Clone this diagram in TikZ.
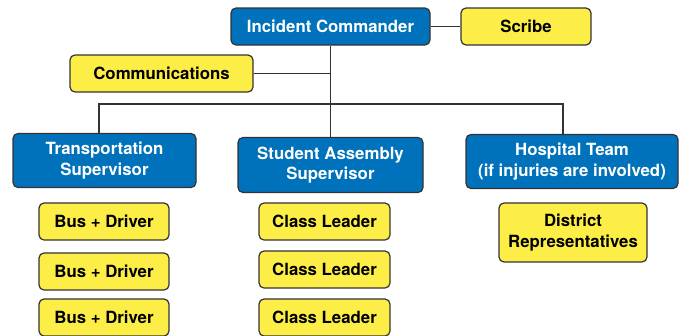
\documentclass[tikz,border=0pt]{standalone}
\usepackage{fontspec}
\setmainfont{TeX Gyre Heros}
\definecolor{boxblue}{HTML}{0072BC}
\definecolor{boxyellow}{HTML}{FDEE47}
\definecolor{edgegray}{HTML}{333333}
\begin{document}
\begin{tikzpicture}[x=1pt,y=-1pt,
  base/.style={draw=edgegray, line width=1.2pt, rounded corners=5pt, inner sep=0pt,
    align=center, font=\fontsize{16.8}{20.5}\selectfont\bfseries},
  bluebox/.style={base, fill=boxblue, text=white},
  yelbox/.style={base, fill=boxyellow, text=black},
  conn/.style={draw=edgegray, line width=1.6pt}]
\useasboundingbox (0,0) rectangle (680,335);
\node[bluebox, minimum width=199pt, minimum height=37pt] (ic) at (330.5,26.5) {Incident Commander};
\node[yelbox, minimum width=130pt, minimum height=37pt] (scribe) at (526,26.5) {Scribe};
\node[yelbox, minimum width=183pt, minimum height=37pt] (comm) at (161.5,73.5) {Communications};
\node[bluebox, minimum width=183pt, minimum height=54pt] (trans) at (104.5,160.5) {Transportation\\Supervisor};
\node[bluebox, minimum width=185pt, minimum height=55pt] (sas) at (330.5,165) {Student Assembly\\Supervisor};
\node[bluebox, minimum width=212pt, minimum height=54pt] (hosp) at (572,161.5) {Hospital Team\\(if injuries are involved)};
\node[yelbox, minimum width=130pt, minimum height=37pt] (bus1) at (104,221.5) {Bus + Driver};
\node[yelbox, minimum width=130pt, minimum height=37pt] (bus2) at (104,271.5) {Bus + Driver};
\node[yelbox, minimum width=130pt, minimum height=37pt] (bus3) at (104,317.5) {Bus + Driver};
\node[yelbox, minimum width=131pt, minimum height=37pt] (cl1) at (324.5,221.5) {Class Leader};
\node[yelbox, minimum width=131pt, minimum height=37pt] (cl2) at (324.5,269.5) {Class Leader};
\node[yelbox, minimum width=131pt, minimum height=37pt] (cl3) at (324.5,317.5) {Class Leader};
\node[yelbox, minimum width=148pt, minimum height=59pt] (dist) at (573,232.5) {District\\Representatives};
\coordinate (tl) at (99,104);
\coordinate (hl) at (563,104);
\draw[conn] (ic.east) -- (scribe.west);
\draw[conn] (ic.south) -- (sas.north);
\draw[conn] (comm.east) -- (comm.east -| ic.south);
\draw[conn] (tl |- trans.north) -- (tl) -- (hl) -- (hl |- hosp.north);
\end{tikzpicture}
\end{document}
